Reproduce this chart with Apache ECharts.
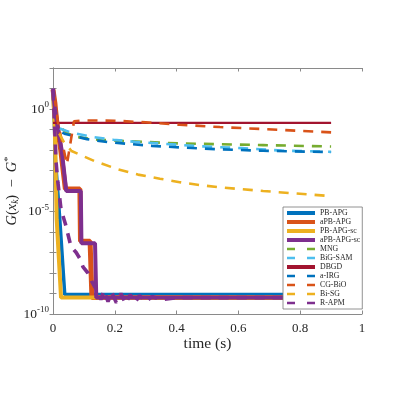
<!DOCTYPE html>
<html>
<head>
<meta charset="utf-8">
<script src="https://cdn.jsdelivr.net/npm/echarts@6/dist/echarts.min.js"></script>
<style>
  html, body { margin: 0; padding: 0; background: #fff; }
  #chart { width: 399px; height: 396px; }
</style>
</head>
<body>
<div id="chart"></div>
<script>
// values are [time in s, log10 of G(x_k) - G*]
const PB_APG = [[0, 0.9], [0.004, -0.5], [0.008, -2.5], [0.022, -5.4], [0.038, -9.05], [0.9, -9.05]];
const APB_APG = [[0, 0.95], [0.006, 0.3], [0.012, -0.6], [0.025, -2.0], [0.04, -3.9], [0.087, -3.9],
  [0.089, -6.45], [0.12, -6.45], [0.126, -9.2], [0.9, -9.2]];
const PB_APG_SC = [[0, 0.85], [0.006, -1.0], [0.012, -5.4], [0.026, -9.2], [0.9, -9.2]];
const APB_APG_SC = [[0, 1.0], [0.006, 0.0], [0.014, -0.8], [0.028, -2.0], [0.043, -4.0], [0.09, -4.0],
  [0.092, -6.55], [0.136, -6.55], [0.14, -9.2], [0.9, -9.2]];
const MNG = [[0.03, -0.98], [0.05, -1.2], [0.08, -1.37], [0.145, -1.5], [0.255, -1.58], [0.41, -1.68],
  [0.68, -1.76], [0.9, -1.83]];
const BIG_SAM = [[0.022, -0.95], [0.055, -1.13], [0.13, -1.37], [0.195, -1.5], [0.265, -1.6], [0.4, -1.74],
  [0.48, -1.82], [0.61, -1.91], [0.74, -2.03], [0.9, -2.09]];
const DBGD = [[0, -0.68], [0.9, -0.68]];
const A_IRG = [[0.03, -1.15], [0.04, -1.22], [0.11, -1.47], [0.18, -1.62], [0.32, -1.8], [0.47, -1.92],
  [0.53, -1.96], [0.68, -2.04], [0.9, -2.1]];
const CG_BIO = [[0.005, 0.6], [0.015, -0.6], [0.045, -2.7], [0.068, -0.6], [0.1, -0.56], [0.2, -0.57],
  [0.3, -0.65], [0.41, -0.77], [0.54, -0.88], [0.68, -0.98], [0.9, -1.14]];
const BI_SG = [[0.02, -1.2], [0.035, -1.6], [0.06, -2.05], [0.136, -2.55], [0.21, -2.94], [0.275, -3.2],
  [0.346, -3.4], [0.41, -3.57], [0.48, -3.72], [0.54, -3.82], [0.68, -4.0], [0.9, -4.25]];
const R_APM = [[0, 0.9], [0.005, -0.8], [0.01, -2.6], [0.016, -3.6], [0.026, -4.9], [0.04, -5.6],
  [0.058, -6.7], [0.075, -7.0], [0.087, -7.3], [0.097, -7.7], [0.113, -8.0], [0.125, -8.4], [0.136, -8.7],
  [0.145, -8.9], [0.155, -9.3], [0.165, -8.85], [0.178, -9.4], [0.19, -8.95], [0.205, -9.45], [0.22, -9.0],
  [0.235, -9.5], [0.25, -9.05], [0.265, -9.45], [0.28, -9.1], [0.3, -9.4], [0.32, -9.15], [0.35, -9.3],
  [0.4, -9.2], [0.9, -9.2]];

const X_TICKS = [0, 0.2, 0.4, 0.6, 0.8, 1];
const Y_MIN_EXP = -10, Y_MAX_EXP = 2;
const LABELED_EXPS = [0, -5, -10];

const SERIF = 'Liberation Serif, Times New Roman, serif';
const AXIS_GRAY = '#8a8a8a';
const TEXT = '#262626';

// name, data, colour, width, dashed?
const LINES = [
  ['PB-APG', PB_APG, '#0072BD', 3.5, false],
  ['aPB-APG', APB_APG, '#D95319', 5, false],
  ['PB-APG-sc', PB_APG_SC, '#EDB120', 4, false],
  ['aPB-APG-sc', APB_APG_SC, '#7E2F8E', 4, false],
  ['MNG', MNG, '#77AC30', 2.6, true],
  ['BiG-SAM', BIG_SAM, '#4DBEEE', 2.6, true],
  ['DBGD', DBGD, '#A2142F', 2.2, false],
  ['a-IRG', A_IRG, '#0072BD', 2.6, true],
  ['CG-BiO', CG_BIO, '#D95319', 2.6, true],
  ['Bi-SG', BI_SG, '#EDB120', 2.6, true],
  ['R-APM', R_APM, '#7E2F8E', 3.6, true],
];

const chart = echarts.init(document.getElementById('chart'));

const series = LINES.map(([name, pts, color, width, dashed]) => ({
  name,
  type: 'line',
  data: pts.map(p => [p[0], Math.pow(10, p[1])]),
  symbol: 'none',
  color,
  lineStyle: { color, width, type: dashed ? [10, 8] : 'solid', cap: 'butt' },
  animation: false,
}));

const boxAxis = {
  axisLine: { show: true, lineStyle: { color: AXIS_GRAY, width: 1 } },
  axisTick: { show: true, inside: true, length: 3.5, lineStyle: { color: AXIS_GRAY } },
  splitLine: { show: false },
};

chart.setOption({
  animation: false,
  backgroundColor: '#fff',
  grid: { left: 53, right: 37, top: 68, bottom: 82, containLabel: false, outerBoundsMode: 'none' },
  legend: {
    left: 283, top: 207,
    orient: 'vertical',
    itemWidth: 28, itemHeight: 8, itemGap: 1,
    padding: [2, 2, 2, 2],
    backgroundColor: '#fff',
    borderColor: '#777', borderWidth: 0.8,
    itemStyle: { opacity: 0 },
    textStyle: { fontFamily: SERIF, fontSize: 7.8, color: TEXT, lineHeight: 8 },
    data: LINES.map(([name, , , , dashed]) => ({
      name,
      lineStyle: { width: dashed ? 2.4 : 4, type: dashed ? [8, 12] : 'solid', cap: 'butt' },
    })),
  },
  xAxis: [{
    type: 'value', min: X_TICKS[0], max: X_TICKS[X_TICKS.length - 1], interval: 0.2,
    ...boxAxis,
    axisLabel: { color: TEXT, fontFamily: SERIF, fontSize: 13, margin: 8,
      formatter: v => String(Math.round(v * 10) / 10) },
    name: 'time (s)', nameLocation: 'middle', nameGap: 22, nameMoveOverlap: false,
    nameTextStyle: { fontFamily: SERIF, fontSize: 15.5, color: TEXT },
  }, {
    type: 'value', position: 'top', min: 0, max: 1, interval: 0.2,
    ...boxAxis, axisLabel: { show: false },
  }],
  yAxis: [{
    type: 'log', logBase: 10, min: Math.pow(10, Y_MIN_EXP), max: Math.pow(10, Y_MAX_EXP), interval: 1,
    ...boxAxis,
    axisLabel: {
      margin: 4,
      formatter: v => {
        const e = Math.round(Math.log10(v));
        return LABELED_EXPS.includes(e) ? '{b|10}{s|' + e + '}' : '';
      },
      rich: {
        b: { fontFamily: SERIF, fontSize: 13.5, color: TEXT },
        s: { fontFamily: SERIF, fontSize: 9, color: TEXT, padding: [0, 0, 8, 0] },
      },
    },
    name: '{i|G}{n|(}{i|x}{sub|k}{n|)  −  }{i|G}{sup|*}',
    nameLocation: 'middle', nameRotate: 90, nameGap: 32, nameMoveOverlap: false,
    nameTextStyle: {
      rich: {
        i: { fontFamily: SERIF, fontStyle: 'italic', fontSize: 14.5, color: TEXT },
        n: { fontFamily: SERIF, fontSize: 14.5, color: TEXT },
        sub: { fontFamily: SERIF, fontStyle: 'italic', fontSize: 9.5, color: TEXT, padding: [6, 0, 0, 0] },
        sup: { fontFamily: SERIF, fontSize: 10.5, color: TEXT, padding: [0, 0, 7, 0] },
      },
    },
  }, {
    type: 'log', logBase: 10, position: 'right', min: Math.pow(10, Y_MIN_EXP), max: Math.pow(10, Y_MAX_EXP), interval: 1,
    ...boxAxis, axisLabel: { show: false },
  }],
  series,
});
</script>
</body>
</html>
